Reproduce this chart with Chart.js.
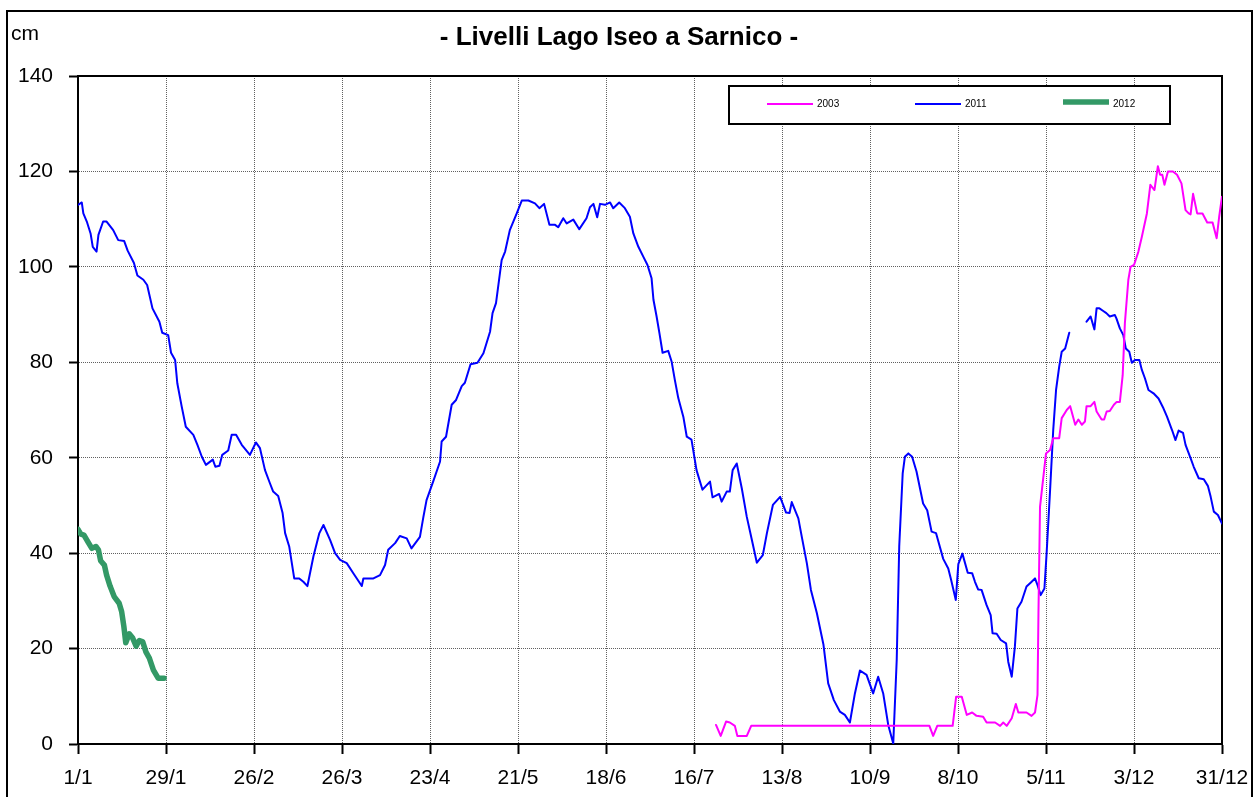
<!DOCTYPE html>
<html lang="it">
<head>
<meta charset="utf-8">
<title>Livelli Lago Iseo a Sarnico</title>
<script src="https://cdn.jsdelivr.net/npm/chart.js@4/dist/chart.umd.min.js"></script>
<style>
  html, body { margin: 0; padding: 0; background: #fff; }
  #wrap { position: relative; width: 1255px; height: 797px; }
</style>
</head>
<body>
<div id="wrap"><canvas id="chart-livelli" width="1255" height="797"></canvas></div>
<script>
// etichette asse x (giorno dell'anno ogni 28 giorni)
const tickLabels = ["1/1", "29/1", "26/2", "26/3", "23/4", "21/5", "18/6", "16/7", "13/8", "10/9", "8/10", "5/11", "3/12", "31/12"];
const seriesNames = ["2003", "2011", "2012"];

// 2003 (giorno dell'anno, cm)
const giorni2003 = [203, 204.5, 206.2, 207.4, 209, 209.8, 212.8, 214.2, 270.9, 272.1, 273.4, 278.3, 279.4, 281.2, 282.8, 284.5,
  285.9, 288, 289.1, 291.8, 293.4, 294.4, 295.5, 297.1, 298.4, 299.2, 301.8, 303.4, 304.5, 305.3, 305.6, 306.1,
  308, 309.3, 310.3, 312.2, 313, 314.6, 315.7, 317.3, 318.3, 319.4, 320.4, 320.9, 322.2, 323.4, 324.1, 325.7,
  326.5, 327.3, 328.3, 329.6, 330.5, 331.5, 332.4, 333.1, 334.2, 334.9, 336, 337.4, 338.5, 340.1, 341.2, 342.5,
  343.6, 344.3, 345, 345.7, 346.8, 348.4, 349.7, 351.1, 352.4, 353.4, 354, 354.8, 356.1, 357.8, 359.3, 361,
  362.3, 363.1, 364];
const livelli2003 = [4.0, 1.7, 4.7, 4.5, 3.8, 1.7, 1.7, 3.8, 3.8, 1.7, 3.8, 3.8, 9.9, 9.9, 6.1, 6.6,
  5.9, 5.7, 4.5, 4.5, 3.8, 4.5, 3.8, 5.4, 8.4, 6.6, 6.6, 5.9, 6.6, 10.3, 27.4, 49.7,
  60.9, 61.6, 64.1, 64.1, 68.3, 70.0, 70.8, 66.9, 68.0, 66.9, 67.6, 70.8, 70.8, 71.7, 69.7, 68.0,
  68.0, 69.7, 69.8, 71.1, 71.7, 71.7, 77.3, 88.2, 97.3, 100.0, 100.4, 103.2, 106.3, 111.2, 117.2, 116.1,
  121.1, 119.3, 119.3, 117.2, 120.0, 120.0, 119.3, 117.5, 111.9, 111.2, 111.0, 115.3, 111.2, 111.2, 109.3, 109.3,
  106.0, 110.5, 114.7];

// 2011 (null = dato mancante)
const giorni2011 = [0, 1.2, 1.7, 2.8, 4, 4.7, 5.9, 6.5, 8, 9.1, 11.2, 12.8, 14.7, 15.8, 17.8, 18.9,
  20.8, 22, 23.7, 25.9, 26.8, 28.7, 29.6, 30.9, 31.6, 33, 34.3, 36.7, 38, 39.4, 40.7, 42.9,
  43.7, 45, 45.9, 47.8, 48.9, 50.3, 52.1, 54.7, 56.6, 57.9, 59.5, 61.1, 62.1, 63.7, 65.1, 65.9,
  67.2, 68.8, 70.4, 71.7, 73, 74.9, 76.8, 78.1, 80.2, 81.8, 83.4, 85.5, 87.6, 90.3, 90.8, 94,
  96.1, 97.7, 98.7, 100.9, 102.4, 104.6, 106.1, 108.8, 109.9, 110.9, 113, 115.2, 115.7, 117.1, 118.9, 120.3,
  122.1, 123.1, 124.9, 127.1, 129, 131.1, 131.9, 133, 134.8, 135.9, 137.4, 139.6, 141.2, 143.3, 145.4, 146.8,
  148.3, 150, 151.8, 152.8, 154.4, 155.5, 157.6, 159.5, 161.8, 162.9, 164, 165.2, 166.1, 167.7, 169.3, 170.3,
  172.2, 174, 175.6, 176.7, 178.3, 179.9, 181.2, 182.5, 183.1, 184.1, 185, 186, 187.8, 188.9, 189.9, 191,
  192.6, 193.7, 195.2, 196.8, 198.7, 201.1, 201.9, 204, 204.8, 206.4, 207.4, 208.3, 209.6, 211.2, 212.8, 214.4,
  216, 217.9, 219.2, 221.1, 223.4, 225.3, 226.4, 227.1, 229.2, 230.3, 231.9, 233.2, 235.1, 237.2, 238.7, 240.5,
  242.4, 244, 245.6, 247.2, 248.8, 250.9, 253, 254.6, 256.2, 257.8, 259.4, 260.5, 261.3, 262.4, 263.1, 264.2,
  265.4, 266.8, 268.9, 270.2, 271.6, 273, 275.3, 276.9, 277.8, 279.3, 280.1, 281.4, 283.1, 284.5, 285.4, 286.4,
  287.5, 289.1, 290.4, 291, 292.3, 293.6, 295.3, 296, 297.1, 298.1, 298.9, 300.2, 301.8, 303.1, 304.5, 305.3,
  306.3, 307.5, 308.2, 309.3, 310.3, 311.2, 312.2, 313, 314.1, 315.4, 318, 320.9, 322.2, 323.4, 324.1, 325,
  326.1, 327.2, 328.3, 329.9, 330.4, 331.5, 332.6, 333.4, 334.5, 335.3, 336.3, 337.7, 338.5, 339.5, 340.6, 342.2,
  343.8, 345.4, 346.5, 348.1, 349.2, 350.2, 351.6, 352.4, 354, 355, 356.6, 358.2, 359.5, 360.4, 361.4, 362.7,
  364];
const livelli2011 = [113.0, 113.5, 111.2, 109.5, 107, 104.2, 103.2, 106.7, 109.5, 109.5, 107.7, 105.6, 105.4, 103.4, 100.8, 98.2,
  97.3, 96.2, 91.3, 88.5, 86.2, 85.7, 82.0, 80.5, 75.6, 70.7, 66.5, 64.8, 62.7, 60.2, 58.5, 59.6,
  58.1, 58.3, 60.6, 61.5, 64.8, 64.8, 62.7, 60.6, 63.2, 62.0, 57.4, 54.6, 52.9, 52.0, 48.4, 44.2,
  41.4, 34.7, 34.7, 34.0, 33.1, 39.3, 44.2, 45.9, 42.8, 40.0, 38.6, 37.9, 35.8, 33.1, 34.7, 34.7,
  35.4, 37.5, 40.7, 42.1, 43.6, 43.1, 41.0, 43.4, 47.6, 51.1, 55.0, 59.2, 63.4, 64.4, 71.1, 72.1,
  75.0, 75.7, 79.6, 79.9, 81.9, 86.4, 90.3, 92.4, 101.4, 103.2, 107.7, 111.2, 113.9, 113.9, 113.3, 112.3,
  113.2, 108.8, 108.8, 108.3, 110.2, 109.1, 109.9, 107.9, 110.2, 112.5, 113.2, 110.4, 113.2, 113.0, 113.5, 112.3,
  113.5, 112.3, 110.5, 107.0, 104.2, 102.1, 100.4, 97.6, 93.1, 89.6, 86.1, 82.0, 82.4, 80.1, 76.3, 72.5,
  68.6, 64.4, 63.8, 57.4, 53.3, 55.0, 51.7, 52.4, 50.8, 52.9, 52.9, 57.4, 58.8, 53.6, 47.6, 42.8,
  38.0, 39.6, 44.2, 50.1, 51.8, 48.5, 48.4, 50.7, 47.3, 43.4, 37.9, 32.3, 27.4, 20.8, 12.7, 9.2,
  6.8, 6.1, 4.5, 10.6, 15.4, 14.5, 10.6, 14.1, 10.6, 4.0, 0.1, 17.6, 41.4, 56.7, 60.2, 60.9,
  60.2, 57.1, 50.4, 49.0, 44.5, 44.2, 38.8, 36.8, 34.4, 30.2, 37.7, 39.9, 35.9, 35.8, 34.0, 32.4,
  32.3, 29.1, 27.0, 23.2, 23.1, 21.8, 21.1, 17.2, 14.1, 20.4, 28.4, 29.8, 33.0, 33.8, 34.7, 33.3,
  31.2, 32.6, 40.0, 53.2, 65.8, 74.2, 79.1, 82.2, 82.9, 86.2, null, 88.5, 89.6, 86.9, 91.3, 91.3,
  90.8, 90.3, 89.6, 89.9, 89.2, 87.1, 85.7, 82.9, 82.2, 79.9, 80.5, 80.5, 78.4, 76.6, 74.2, 73.5,
  72.4, 70.3, 68.6, 65.8, 63.7, 65.7, 65.2, 62.7, 59.9, 58.1, 55.7, 55.5, 54.1, 51.8, 48.7, 48.0,
  46.2];

// 2012
const giorni2012 = [0, 0.9, 1.9, 3.3, 4.4, 5.7, 6.5, 7.2, 8.4, 9.1, 10.2, 11.5, 13.1, 13.9, 14.6, 15.2,
  16.3, 17.4, 18.5, 19.5, 20.6, 21.6, 22.7, 24, 25.5, 27.4];
const livelli2012 = [45.0, 44.0, 43.8, 42.2, 41.0, 41.4, 40.7, 38.4, 37.5, 35.4, 33.1, 30.9, 29.5, 27.7, 24.6, 21.2,
  23.1, 22.2, 20.5, 21.7, 21.4, 19.3, 18.0, 15.5, 13.8, 13.8];

const FONT = "'Liberation Sans', Arial, sans-serif";

function punti(giorni, livelli) {
  return giorni.map((g, i) => ({ x: g, y: livelli[i] }));
}

// cornice esterna, bordo area grafico, etichetta "cm" e legenda nel riquadro
const decorazioni = {
  id: 'decorazioni',
  beforeDatasetsDraw(chart) {
    const { ctx, chartArea } = chart;
    ctx.save();
    ctx.strokeStyle = '#000';
    ctx.lineWidth = 2;
    ctx.beginPath();
    ctx.moveTo(chartArea.left, chartArea.top);
    ctx.lineTo(chartArea.right, chartArea.top);
    ctx.lineTo(chartArea.right, chartArea.bottom);
    ctx.stroke();
    ctx.restore();
  },
  afterDraw(chart) {
    const { ctx } = chart;
    ctx.save();
    // cornice
    ctx.strokeStyle = '#000';
    ctx.lineWidth = 2;
    ctx.strokeRect(7, 11, 1245, 800);
    // unita di misura
    ctx.fillStyle = '#000';
    ctx.font = '21px ' + FONT;
    ctx.textBaseline = 'alphabetic';
    ctx.textAlign = 'left';
    ctx.fillText('cm', 11, 40);
    // legenda
    ctx.fillStyle = '#fff';
    ctx.fillRect(729, 86, 441, 38);
    ctx.lineWidth = 2;
    ctx.strokeRect(729, 86, 441, 38);
    ctx.font = '10px ' + FONT;
    ctx.textBaseline = 'middle';
    chart.data.datasets.forEach((ds, i) => {
      const x0 = 767 + i * 148;
      const y0 = ds.borderWidth > 3 ? 102 : 104;
      ctx.strokeStyle = ds.borderColor;
      ctx.lineWidth = ds.borderWidth;
      ctx.lineCap = 'butt';
      ctx.beginPath();
      ctx.moveTo(x0, y0);
      ctx.lineTo(x0 + 46, y0);
      ctx.stroke();
      ctx.fillStyle = '#000';
      ctx.fillText(ds.label, x0 + 50, 104);
    });
    ctx.restore();
  }
};

const ctx = document.getElementById('chart-livelli').getContext('2d');
new Chart(ctx, {
  type: 'line',
  data: {
    datasets: [
      { label: seriesNames[0], data: punti(giorni2003, livelli2003), borderColor: '#FF00FF', borderWidth: 2 },
      { label: seriesNames[1], data: punti(giorni2011, livelli2011), borderColor: '#0000FF', borderWidth: 2 },
      { label: seriesNames[2], data: punti(giorni2012, livelli2012), borderColor: '#339966', borderWidth: 5.5 }
    ]
  },
  options: {
    responsive: false,
    animation: false,
    devicePixelRatio: 1,
    parsing: false,
    spanGaps: false,
    elements: {
      point: { radius: 0 },
      line: { tension: 0, borderJoinStyle: 'round', borderCapStyle: 'round' }
    },
    layout: { padding: { left: 16, right: 33, top: 0, bottom: 0 } },
    plugins: {
      legend: { display: false },
      tooltip: { enabled: false },
      title: {
        display: true,
        text: '- Livelli Lago Iseo a Sarnico -',
        color: '#000',
        font: { family: FONT, size: 26, weight: 'bold' },
        padding: { top: 22, bottom: 22.8 }
      }
    },
    scales: {
      x: {
        type: 'linear',
        min: 0,
        max: 364,
        // l'ultima etichetta può sporgere a destra: nessun margine extra
        afterFit: s => { s.height = 53; s.paddingLeft = 0; s.paddingRight = 0; },
        afterBuildTicks: s => { s.ticks = tickLabels.map((t, i) => ({ value: i * 28 })); },
        ticks: {
          color: '#000',
          autoSkip: false,
          maxRotation: 0,
          padding: 12,
          font: { family: FONT, size: 21 },
          callback: v => tickLabels[Math.round(v / 28)]
        },
        grid: { color: '#606060', lineWidth: 1, tickLength: 10, tickColor: '#000', tickWidth: 2 },
        border: { display: true, color: '#000', width: 2, dash: [1, 1] }
      },
      y: {
        min: 0,
        max: 140,
        afterFit: s => { s.width = 62; },
        ticks: {
          stepSize: 20,
          color: '#000',
          padding: 16,
          font: { family: FONT, size: 21 }
        },
        grid: { color: '#606060', lineWidth: 1, tickLength: 9, tickColor: '#000', tickWidth: 2 },
        border: { display: true, color: '#000', width: 2, dash: [1, 1] }
      }
    }
  },
  plugins: [decorazioni]
});
</script>
</body>
</html>
